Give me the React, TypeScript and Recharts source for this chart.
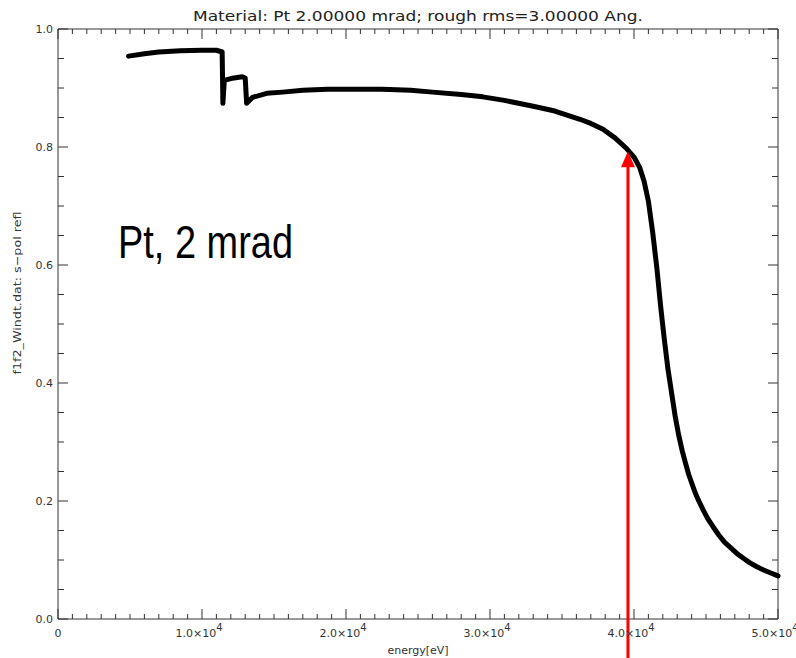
import { LineChart, Line, XAxis, YAxis, ReferenceArea, ReferenceLine } from "recharts";

// energy [eV] and s-pol reflectivity
const energy = [
  4900, 6000, 7000, 8500, 10000, 11000, 11400, 11450, 11550, 12000, 12800, 13000, 13100, 13500,
  14500, 15600, 17000, 18700, 20500, 22500, 24500, 26000, 28000, 29500, 31000, 33000, 34500,
  36250, 37000, 37850, 38700, 39500, 40000, 40400, 40700, 41000, 41300, 41600, 41850, 42100,
  42350, 42600, 42850, 43100, 43350, 43600, 43800, 44000, 44250, 44500, 44800, 45100, 45500,
  45900, 46300, 46800, 47200, 47600, 48000, 48500, 49000, 49500, 50000,
];
const refl = [
  0.954, 0.958, 0.961, 0.963, 0.964, 0.964, 0.961, 0.874, 0.913, 0.916, 0.919, 0.917, 0.874, 0.884,
  0.891, 0.893, 0.896, 0.898, 0.898, 0.898, 0.896, 0.893, 0.889, 0.885, 0.879, 0.869, 0.861,
  0.847, 0.84, 0.83, 0.815, 0.797, 0.783, 0.765, 0.742, 0.708, 0.655, 0.592, 0.53, 0.475,
  0.425, 0.385, 0.345, 0.312, 0.285, 0.262, 0.245, 0.231, 0.214, 0.2, 0.185, 0.171, 0.156,
  0.142, 0.13, 0.119, 0.11, 0.103, 0.096, 0.089, 0.083, 0.078, 0.073,
];

const xMajor = [0, 10000, 20000, 30000, 40000, 50000];
const xMajorLabels = ["0", "1.0×10", "2.0×10", "3.0×10", "4.0×10", "5.0×10"];
const yMajor = [0, 0.2, 0.4, 0.6, 0.8, 1.0];
const yMajorLabels = ["0.0", "0.2", "0.4", "0.6", "0.8", "1.0"];

const markEnergy = 39580;
const markRefl = 0.793;

const rows = energy.map((e, i) => ({ energy: e, refl: refl[i] }));

// tick grids (minor ticks every 1000 eV and every 0.05)
const xTicks: number[] = [];
for (let v = 0; v <= 50000; v += 1000) xTicks.push(v);
const yTicks: number[] = [];
for (let i = 0; i <= 20; i++) yTicks.push(Math.round(i * 5) / 100);

const W = 796;
const H = 658;
const LEFT = 58;
const RIGHT = 778;
const TOP = 29;
const BOTTOM = 619;
const AXIS = "#333";
const FONT = "DejaVu Sans, sans-serif";

function XTick(props: any) {
  const { x, payload } = props;
  const idx = xMajor.indexOf(payload.value);
  const len = idx >= 0 ? 10 : 5;
  return (
    <g>
      <line x1={x} y1={BOTTOM} x2={x} y2={BOTTOM - len} stroke={AXIS} />
      <line x1={x} y1={TOP} x2={x} y2={TOP + len} stroke={AXIS} />
      {idx >= 0 && (
        <text x={idx === 0 ? x : x - 3} y={BOTTOM + 18} textAnchor="middle" fontSize={11} fontFamily={FONT} fill={AXIS}>
          {xMajorLabels[idx]}
          {idx > 0 && (
            <tspan dy={-6} fontSize={10}>
              4
            </tspan>
          )}
        </text>
      )}
    </g>
  );
}

function YTick(props: any) {
  const { y, payload } = props;
  const idx = yMajor.findIndex((v) => Math.abs(v - payload.value) < 1e-6);
  const len = idx >= 0 ? 10 : 6;
  return (
    <g>
      <line x1={LEFT} y1={y} x2={LEFT + len} y2={y} stroke={AXIS} />
      <line x1={RIGHT} y1={y} x2={RIGHT - len} y2={y} stroke={AXIS} />
      {idx >= 0 && (
        <text x={53} y={y + 4} textAnchor="end" fontSize={11} fontFamily={FONT} fill={AXIS}>
          {yMajorLabels[idx]}
        </text>
      )}
    </g>
  );
}

function Arrow(props: any) {
  const { x1, y1, x2, y2 } = props;
  return (
    <g>
      <line x1={x1} y1={y1} x2={x2} y2={y2 + 12} stroke="#ff0000" strokeWidth={3} />
      <polygon points={`${x2},${y2} ${x2 - 7},${y2 + 16} ${x2 + 7},${y2 + 16}`} fill="#ff0000" />
    </g>
  );
}

export default function App() {
  return (
    <div style={{ position: "absolute", left: 0, top: 0, width: W, height: H, background: "#fff" }}>
      <LineChart width={W} height={H} data={rows} margin={{ top: TOP, right: W - RIGHT, bottom: 0, left: 0 }}>
        <XAxis
          dataKey="energy"
          type="number"
          domain={[0, 50000]}
          ticks={xTicks}
          interval={0}
          height={H - BOTTOM}
          axisLine={false}
          tickLine={false}
          tickSize={0}
          tickMargin={0}
          tick={<XTick />}
        />
        <YAxis
          type="number"
          domain={[0, 1]}
          ticks={yTicks}
          interval={0}
          width={LEFT}
          axisLine={false}
          tickLine={false}
          tickSize={0}
          tickMargin={0}
          tick={<YTick />}
        />
        <ReferenceArea x1={0} x2={50000} y1={0} y2={1} fill="none" fillOpacity={0} stroke={AXIS} strokeWidth={1} />
        <Line
          dataKey="refl"
          type="linear"
          stroke="#000"
          strokeWidth={5}
          strokeLinejoin="round"
          strokeLinecap="round"
          dot={false}
          isAnimationActive={false}
        />
        <ReferenceLine
          segment={[
            { x: markEnergy, y: -0.07 },
            { x: markEnergy, y: markRefl },
          ]}
          ifOverflow="visible"
          shape={Arrow}
        />
      </LineChart>
      <svg width={W} height={H} style={{ position: "absolute", left: 0, top: 0, pointerEvents: "none" }}>
        <text x={418} y={21} textAnchor="middle" fontSize={14} fontFamily={FONT} fill="#222" textLength={450} lengthAdjust="spacingAndGlyphs">
          Material: Pt 2.00000 mrad; rough rms=3.00000 Ang.
        </text>
        <text x={418} y={654} textAnchor="middle" fontSize={11} fontFamily={FONT} fill={AXIS}>
          energy[eV]
        </text>
        <text
          x={0}
          y={0}
          transform="translate(21,293) rotate(-90)"
          textAnchor="middle"
          fontSize={11}
          fontFamily={FONT}
          fill={AXIS}
          textLength={163}
          lengthAdjust="spacingAndGlyphs"
        >
          f1f2_Windt.dat: s−pol refl
        </text>
        <text x={118} y={258} fontSize={46} fontFamily="Liberation Sans, Arial, sans-serif" fill="#000" textLength={175} lengthAdjust="spacingAndGlyphs">
          Pt, 2 mrad
        </text>
      </svg>
    </div>
  );
}
